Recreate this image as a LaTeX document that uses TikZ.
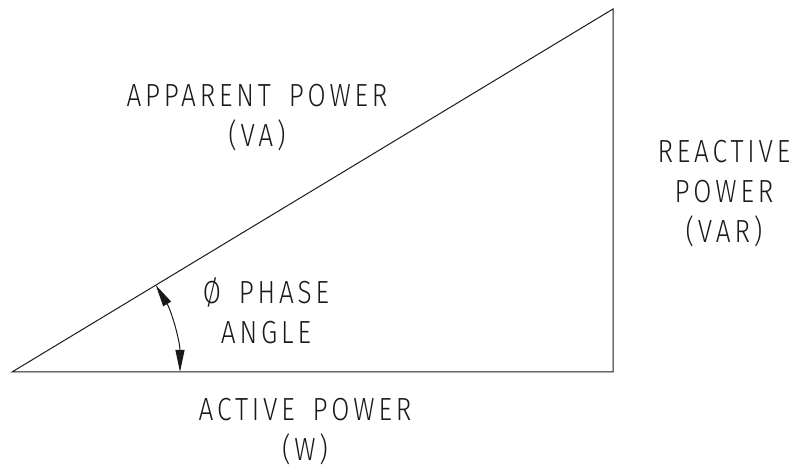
\documentclass[tikz,border=0pt]{standalone}
\usepackage{fontspec}
\setmainfont{Fira Sans}[UprightFont=* Light,LetterSpace=12,WordSpace=1.6,FakeStretch=0.82]
\usetikzlibrary{arrows.meta,positioning,calc}
\definecolor{Ink}{HTML}{1A1A1A}
\tikzset{
  cadtext/.style={align=center,inner sep=0pt,text=Ink,font=\fontsize{32}{40}\selectfont},
  sideline/.style={draw=Ink,line width=1pt,line join=miter},
}

\begin{document}
\begin{tikzpicture}[x=1pt,y=1pt]
\useasboundingbox (0,0) rectangle (795,468);
% triangle corners
\coordinate (origin) at (12,96);
\coordinate (base) at (613,96);
\coordinate (top) at (613,459);
\draw[sideline] (origin) -- (base) -- (top) -- cycle;
% phase angle arc
\coordinate (arcstart) at ($(origin)+(168,0)$);
\draw[draw=Ink,line width=1pt,{Triangle[length=22pt,width=9pt]}-{Triangle[length=22pt,width=9pt]}]
  (arcstart) arc[start angle=0,end angle=31.13,radius=168pt];
% labels
\node[cadtext] (apparent) at (257,350) {APPARENT POWER\\(VA)};
\node[cadtext] (reactive) at (724,274) {REACTIVE\\POWER\\(VAR)};
\node[cadtext] (active) at (305,36) {ACTIVE POWER\\(W)};
\node[cadtext] (phase) at (266,157) {Ø PHASE\\ANGLE};
\end{tikzpicture}
\end{document}
